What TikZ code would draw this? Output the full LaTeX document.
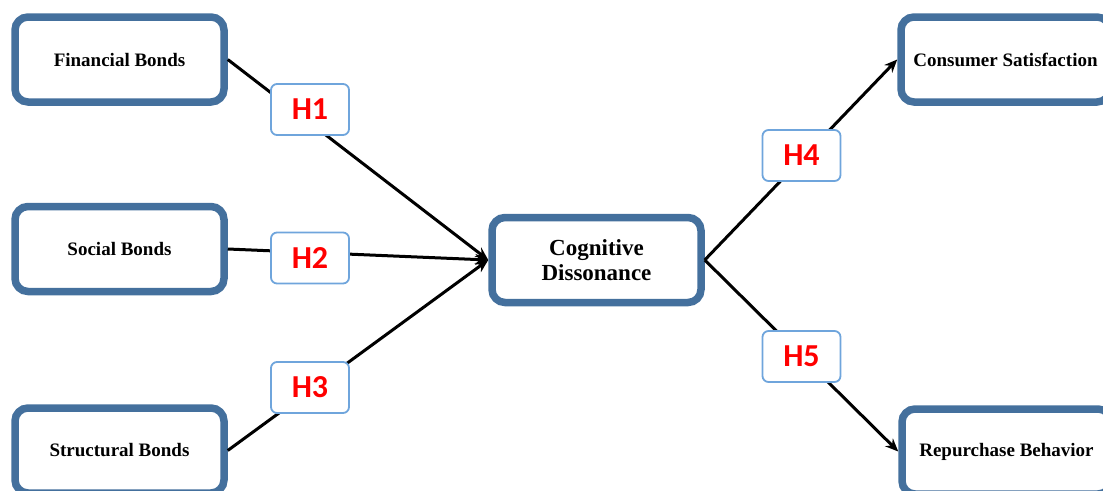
\documentclass[tikz,border=0pt]{standalone}
\usepackage{fontspec}
\setmainfont{Liberation Serif}
\newfontfamily\hypfont{Carlito}
\usetikzlibrary{arrows.meta,positioning}
\definecolor{boxblue}{HTML}{44709D}
\definecolor{hypblue}{HTML}{6FA5DC}
\definecolor{hypred}{HTML}{FF0000}

\begin{document}
\begin{tikzpicture}[x=1pt,y=-1pt,
  construct/.style={draw=boxblue,line width=7.5pt,rounded corners=13pt,fill=white,
    minimum width=209pt,minimum height=85pt,align=center,
    font=\fontsize{19}{21}\selectfont\bfseries},
  hyp/.style={draw=hypblue,line width=1.8pt,rounded corners=6pt,fill=white,
    minimum width=78pt,minimum height=51pt,text=hypred,
    font=\hypfont\fontsize{32}{34}\selectfont\bfseries},
  link/.style={line width=3pt,-{Stealth[length=13pt,width=11pt]}}]
  \useasboundingbox (0,0) rectangle (1103,490);
  % antecedents
  \node[construct] (fin) at (119.5,59.5) {Financial Bonds};
  \node[construct] (soc) at (119.5,249) {Social Bonds};
  \node[construct] (str) at (119.5,450.5) {Structural Bonds};
  % mediator
  \node[construct,font=\fontsize{23}{25}\selectfont\bfseries] (cog) at (596.5,260) {Cognitive\\Dissonance};
  % outcomes
  \node[construct] (sat) at (1005.5,59.5) {Consumer Satisfaction};
  \node[construct] (rep) at (1006.5,451.5) {Repurchase Behavior};
  % paths
  \draw[link] (fin.east) -- (cog.west);
  \draw[link] (soc.east) -- (cog.west);
  \draw[link] (str.east) -- (cog.west);
  \draw[link] (cog.east) -- (sat.west);
  \draw[link] (cog.east) -- (rep.west);
  % hypotheses
  \node[hyp] (h1) at (310,109.5) {H1};
  \node[hyp] (h2) at (310,258) {H2};
  \node[hyp] (h3) at (310,387.5) {H3};
  \node[hyp] (h4) at (801.5,155.5) {H4};
  \node[hyp] (h5) at (801.5,356.5) {H5};
\end{tikzpicture}
\end{document}
